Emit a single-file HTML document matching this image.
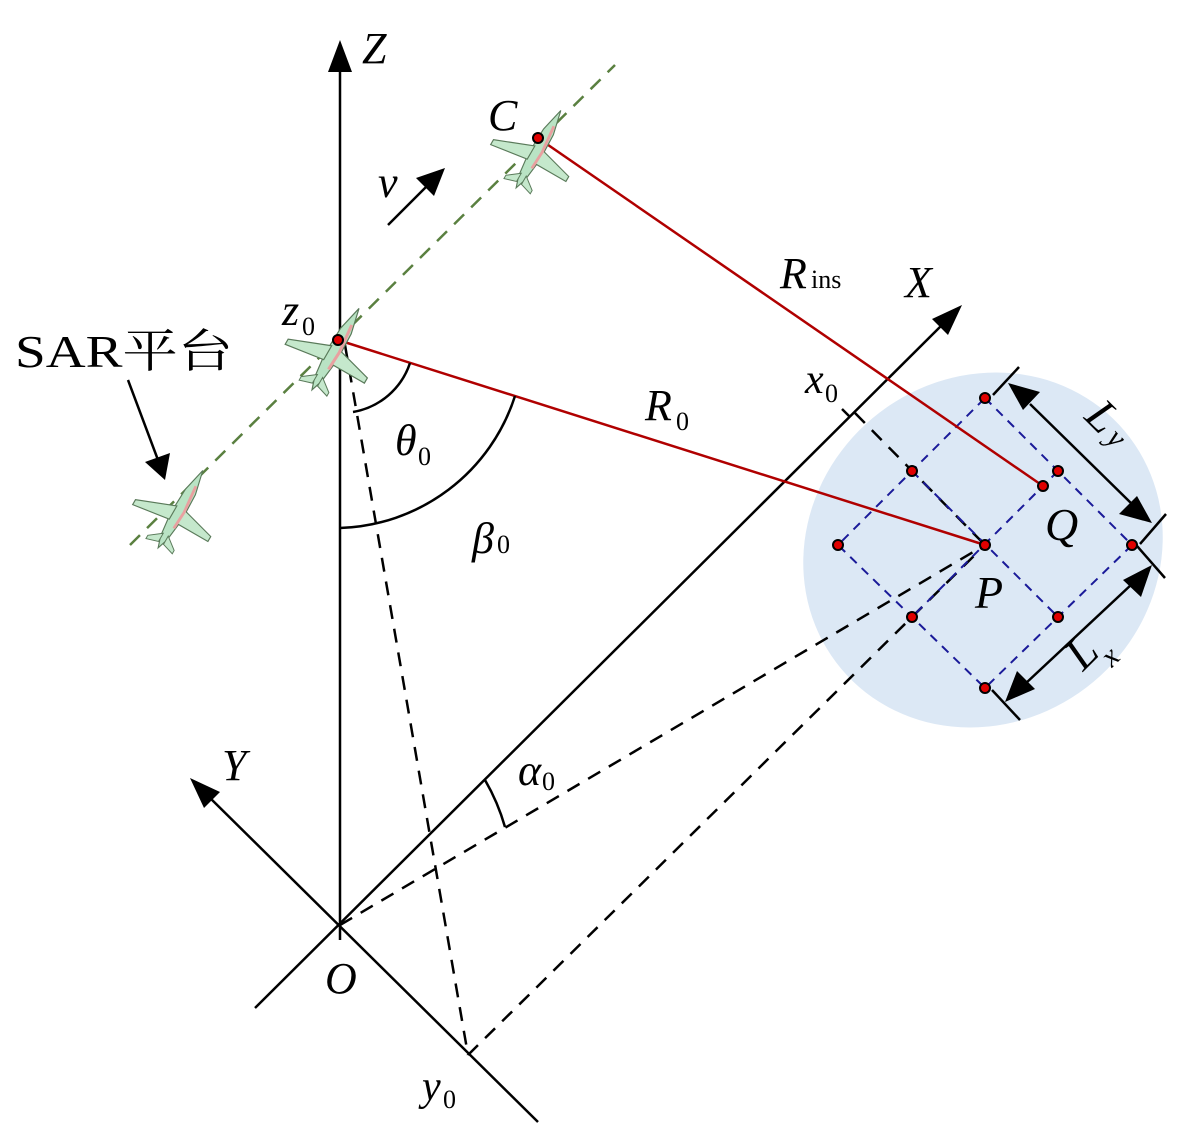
<!DOCTYPE html>
<html><head><meta charset="utf-8"><style>
html,body{margin:0;padding:0;background:#fff;width:1181px;height:1128px;overflow:hidden}
text{font-family:"Liberation Serif","Noto Serif CJK SC",serif;font-style:italic;fill:#000}
</style></head><body>
<svg width="1181" height="1128" viewBox="0 0 1181 1128" xmlns="http://www.w3.org/2000/svg">
<defs>
<g id="plane">
<path d="M0,-48 L6,-22 L7,8 L4,34 L0,46 L-4,34 L-7,8 L-6,-22 Z" fill="#b9e3c4" stroke="#5a7a5a" stroke-width="1.2"/>
<path d="M-5,-2 L-46,14 L-46,20 L-5,14 Z" fill="#c5e8cc" stroke="#5a7a5a" stroke-width="1.2"/>
<path d="M5,-2 L42,8 L42,14 L5,14 Z" fill="#c5e8cc" stroke="#5a7a5a" stroke-width="1.2"/>
<path d="M-3,30 L-16,40 L-16,44 L-3,40 Z M3,30 L16,40 L16,44 L3,40 Z" fill="#c5e8cc" stroke="#5a7a5a" stroke-width="1"/>
<path d="M2,-30 L5,0 L4,20" stroke="#e9a0a0" stroke-width="3" fill="none"/>
</g>
</defs>
<ellipse cx="983" cy="550" rx="185" ry="172" transform="rotate(-40 983 550)" fill="#dce8f5"/>
<line x1="340" y1="940" x2="340" y2="60" stroke="#000" stroke-width="2.5"/>
<path d="M340,40 L328,72 L352,72 Z" fill="#000"/>
<line x1="255" y1="1008" x2="945" y2="322" stroke="#000" stroke-width="2.5"/>
<path d="M962,305 L932,319 L948,335 Z" fill="#000"/>
<line x1="538" y1="1122" x2="205" y2="793" stroke="#000" stroke-width="2.5"/>
<path d="M190,778 L204,808 L220,792 Z" fill="#000"/>
<line x1="130" y1="545" x2="615" y2="65" stroke="#5a8040" stroke-width="2.5" stroke-dasharray="14,10"/>
<g stroke="#000" stroke-width="2.5" stroke-dasharray="14,10" fill="none">
<line x1="345" y1="345" x2="468" y2="1055"/>
<line x1="340" y1="925" x2="985" y2="545"/>
<line x1="468" y1="1055" x2="985" y2="545"/>
<line x1="855" y1="413" x2="985" y2="545"/>
</g>
<line x1="842" y1="409" x2="850" y2="417" stroke="#000" stroke-width="2.5"/>
<g stroke="#1a1a99" stroke-width="2" stroke-dasharray="9,7" fill="none">
<path d="M985,398 L1132,545 L985,688 L838,545 Z"/>
<line x1="912" y1="471" x2="1058" y2="617"/>
<line x1="1058" y1="471" x2="912" y2="617"/>
</g>
<line x1="338" y1="340" x2="985" y2="545" stroke="#b00000" stroke-width="2.5"/>
<line x1="538" y1="138" x2="1043" y2="486" stroke="#b00000" stroke-width="2.5"/>
<g stroke="#000" stroke-width="2.5" fill="none">
<path d="M410,363 A73,73 0 0 1 353,412"/>
<path d="M340,528 A190,190 0 0 0 515,396"/>
<path d="M485,780 A205,205 0 0 1 505,827"/>
</g>
<g stroke="#000" stroke-width="2.5">
<line x1="1019" y1="367" x2="993" y2="395"/>
<line x1="1166" y1="514" x2="1140" y2="544"/>
<line x1="1137" y1="546" x2="1165" y2="578"/>
<line x1="992" y1="690" x2="1020" y2="720"/>
<line x1="1030" y1="404" x2="1134" y2="506"/>
<line x1="1132" y1="584" x2="1025" y2="684"/>
</g>
<path d="M1008,383 L1040,392 L1023,410 Z" fill="#000"/>
<path d="M1152,523 L1119,514 L1137,496 Z" fill="#000"/>
<path d="M1152,565 L1141,597 L1123,580 Z" fill="#000"/>
<path d="M1005,702 L1017,671 L1035,689 Z" fill="#000"/>
<line x1="388" y1="225" x2="430" y2="183" stroke="#000" stroke-width="2.5"/>
<path d="M445,168 L416,178 L434,196 Z" fill="#000"/>
<line x1="128" y1="380" x2="158" y2="460" stroke="#000" stroke-width="2.5"/>
<path d="M165,480 L145,462 L170,453 Z" fill="#000"/>
<use href="#plane" transform="translate(335,350) rotate(30)"/>
<use href="#plane" transform="translate(538,150) rotate(30) scale(0.95)"/>
<use href="#plane" transform="translate(180,510) rotate(30) scale(0.95)"/>
<g fill="#e00000" stroke="#000" stroke-width="2">
<circle cx="985" cy="398" r="5"/><circle cx="912" cy="471" r="5"/><circle cx="1058" cy="471" r="5"/>
<circle cx="838" cy="545" r="5"/><circle cx="1132" cy="545" r="5"/><circle cx="912" cy="617" r="5"/>
<circle cx="1058" cy="617" r="5"/><circle cx="985" cy="688" r="5"/><circle cx="985" cy="545" r="5"/>
<circle cx="1043" cy="486" r="5"/><circle cx="338" cy="340" r="5"/><circle cx="538" cy="138" r="5"/>
</g>
<text x="362" y="63" font-size="44">Z</text>
<text x="488" y="130" font-size="44">C</text>
<text x="378" y="197" font-size="44">v</text>
<text x="905" y="297" font-size="44">X</text>
<text x="780" y="288" font-size="44">R</text>
<text x="811" y="288" font-size="26" style="font-style:normal">ins</text>
<text x="282" y="325" font-size="44">z</text>
<text x="302" y="335" font-size="26" style="font-style:normal">0</text>
<text x="15" y="367" font-size="46" style="font-style:normal" textLength="218" lengthAdjust="spacingAndGlyphs">SAR平台</text>
<text x="805" y="393" font-size="42">x</text>
<text x="825" y="402" font-size="26" style="font-style:normal">0</text>
<text x="645" y="420" font-size="44">R</text>
<text x="676" y="430" font-size="26" style="font-style:normal">0</text>
<text x="395" y="455" font-size="44">θ</text>
<text x="418" y="465" font-size="26" style="font-style:normal">0</text>
<text x="472" y="553" font-size="44">β</text>
<text x="497" y="553" font-size="26" style="font-style:normal">0</text>
<text x="1045" y="540" font-size="46">Q</text>
<text x="975" y="608" font-size="46">P</text>
<text x="0" y="0" font-size="46" transform="translate(1083,418) rotate(45)">L</text>
<text x="0" y="0" font-size="30" transform="translate(1105,440) rotate(45)">y</text>
<text x="0" y="0" font-size="46" transform="translate(1083,672) rotate(-45)">L</text>
<text x="0" y="0" font-size="30" transform="translate(1112,668) rotate(-45)">x</text>
<text x="222" y="780" font-size="44">Y</text>
<text x="518" y="785" font-size="44">α</text>
<text x="542" y="790" font-size="26" style="font-style:normal">0</text>
<text x="325" y="993" font-size="44">O</text>
<text x="422" y="1100" font-size="42">y</text>
<text x="443" y="1108" font-size="26" style="font-style:normal">0</text>
</svg>
</body></html>
